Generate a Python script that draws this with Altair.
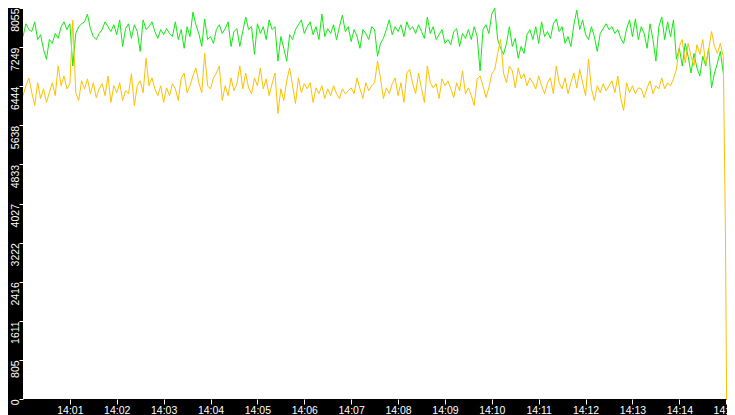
import altair as alt
import pandas as pd

# --- data (values in chart units) ---
green_a = [7466, 7730, 7610, 7570, 7770, 7405, 7505, 7200, 7000, 7405, 7325, 7530, 7430, 7670, 7770, 7610, 7730, 6860, 7530, 7670,
           7730, 7770, 7930, 7630, 7466, 7405, 7530, 7610, 7770, 7670, 7570, 7710, 7505, 7810, 7263, 7630, 7730, 7430, 7710, 7570,
           7160, 7810, 7610, 7670, 7770, 7570, 7430, 7610, 7505, 7630, 7530, 7466, 7770, 7405, 7610, 7225, 7670, 7466, 7970, 7710]
green_b = [7530, 7263, 7830, 7405, 7466, 7325, 7610, 7710, 7530, 7630, 7770, 7263, 7570, 7630, 7263, 7570, 7870, 7610, 7670, 7100,
           7730, 7530, 7670, 7405, 7810, 7610, 7670, 6960, 7466, 7225, 6960, 7505, 7405, 7610, 7710, 7810, 7530, 7670, 7770, 7505,
           7670, 7405, 7930, 7466, 7630, 7530, 7710, 7405, 7670, 7910, 7570, 7670, 7365, 7610, 7466, 7225, 7610, 7530, 7405, 7670]
green_c = [7610, 7060, 7325, 7430, 7610, 7810, 7505, 7670, 7570, 7710, 7466, 7770, 7610, 7670, 7530, 7710, 7570, 7430, 7870, 7530,
           7670, 7405, 7505, 7610, 7325, 7405, 7300, 7570, 7630, 7263, 7530, 7430, 7610, 7405, 7670, 7466, 6760, 7610, 7710, 7530,
           7930, 8050, 7405, 7225, 7100, 7325, 7670, 7263, 7430, 7020, 7263, 7120, 7505, 7610, 7405, 7670, 7325, 7770, 7466, 7570]
green_d = [7430, 7730, 7830, 7570, 7670, 7325, 7466, 7263, 7710, 8010, 7610, 7810, 7505, 7405, 7670, 7466, 7160, 7530, 7630, 7730,
           7610, 7670, 7530, 7610, 7430, 7325, 7630, 7810, 7466, 7830, 7405, 7670, 7530, 7225, 7730, 7405, 6960, 7670, 7870, 7405,
           7770, 7466, 7810, 7000, 7225, 6860, 7325, 7060, 6715, 7120, 6820, 6655, 7060, 6860, 7225, 6410, 6715, 6920, 7160, 6715]

yellow_a = [6250, 6453, 6615, 6310, 6047, 6515, 6190, 6390, 6110, 6310, 6515, 6250, 6860, 6453, 6655, 6390, 6495, 7800, 6310, 6150,
            6555, 6390, 6595, 6290, 6515, 6210, 6390, 6495, 6250, 6655, 6110, 6453, 6310, 6515, 6150, 6350, 6290, 6700, 6047, 6453,
            6555, 6310, 7020, 6453, 6615, 6390, 6250, 6453, 6110, 6410, 6250, 6495, 6390, 6150, 6615, 6715, 6310, 6453, 6655, 6820]
yellow_b = [6515, 6310, 7120, 6453, 6390, 6615, 6715, 6860, 6150, 6453, 6250, 6615, 6350, 6495, 6860, 6390, 6715, 6410, 6290, 6615,
            6453, 6820, 6390, 6595, 6250, 6495, 6715, 5880, 6390, 6150, 6555, 6820, 6453, 6090, 6615, 6310, 6495, 6390, 6515, 6110,
            6410, 6290, 6453, 6190, 6390, 6250, 6453, 6290, 6190, 6390, 6290, 6350, 6410, 6290, 6615, 6390, 6190, 6515, 6350, 6453]
yellow_c = [6515, 6960, 6615, 6190, 6410, 6290, 6495, 6615, 6250, 6515, 6110, 6715, 6790, 6495, 6290, 6715, 6390, 6110, 6860, 6515,
            6410, 6495, 6190, 6595, 6453, 6555, 6390, 6210, 6515, 6350, 6760, 6290, 6410, 6250, 6047, 6595, 6655, 6453, 6210, 6410,
            6700, 6790, 7120, 7405, 6715, 6515, 6860, 6760, 6410, 6820, 6595, 6700, 6453, 6615, 6515, 6390, 6655, 6453, 6290, 6515]
yellow_d = [6615, 6290, 6860, 6515, 6390, 6615, 6290, 6515, 6715, 6410, 6790, 6515, 6250, 7000, 6390, 6150, 6453, 6310, 6495, 6350,
            6453, 6555, 6310, 6655, 6190, 5945, 6515, 6310, 6453, 6290, 6410, 6390, 6210, 6410, 6555, 6290, 6453, 6390, 6615, 6390,
            6515, 6453, 6595, 6790, 7263, 7405, 6920, 7325, 7060, 6860, 7300, 7100, 7405, 6890, 7200, 7570, 7263, 7120, 7325, 7060]
yellow_tail_seconds = [899.0, 900.5]
yellow_tail_values = [3450, 0]

sample_step_seconds = 3.75
y_tick_values = [0, 805, 1611, 2416, 3222, 4027, 4833, 5638, 6444, 7249, 8055]
x_tick_minutes = list(range(1, 16))
series_names = ["green", "yellow"]
series_colors = ["#12e812", "#ffc000"]


def stamp(t):
    m = int(t // 60)
    s = t - 60 * m
    return f"2024-01-01T14:{m:02d}:{s:06.3f}"


green = green_a + green_b + green_c + green_d
yellow = yellow_a + yellow_b + yellow_c + yellow_d

rows = []
for i, v in enumerate(green):
    rows.append({"time": stamp(i * sample_step_seconds), "value": v, "series": "green"})
for i, v in enumerate(yellow):
    rows.append({"time": stamp(i * sample_step_seconds), "value": v, "series": "yellow"})
for t, v in zip(yellow_tail_seconds, yellow_tail_values):
    rows.append({"time": stamp(t), "value": v, "series": "yellow"})
df = pd.DataFrame(rows)

FONT = "Liberation Sans"

x_domain = [alt.DateTime(year=2024, month=1, date=1, hours=14, minutes=0, seconds=0),
            alt.DateTime(year=2024, month=1, date=1, hours=14, minutes=15, seconds=1)]
x_values = [alt.DateTime(year=2024, month=1, date=1, hours=14, minutes=m) for m in x_tick_minutes]

chart = alt.Chart(df).mark_line(strokeWidth=1, clip=True).encode(
    x=alt.X("time:T", scale=alt.Scale(domain=x_domain),
            axis=alt.Axis(values=x_values, format="%H:%M", title=None, domain=False, grid=False,
                          tickColor="white", tickSize=5, tickWidth=1,
                          labelColor="white", labelFont=FONT, labelFontSize=10.5, labelPadding=1,
                          labelFlush=False, labelOverlap=False)),
    y=alt.Y("value:Q", scale=alt.Scale(domain=[0, 8055], nice=False, zero=True),
            axis=alt.Axis(values=y_tick_values, format="d", title=None, domain=False, grid=False,
                          tickColor="white", tickSize=4, tickWidth=1,
                          labelColor="white", labelFont=FONT, labelFontSize=10.5, labelPadding=1,
                          labelAngle=270, labelAlign="right", labelBaseline="alphabetic",
                          labelOverlap=False)),
    color=alt.Color("series:N", scale=alt.Scale(domain=series_names, range=series_colors), legend=None),
    order=alt.Order("time:T"),
).properties(
    width=704,
    height=391,
    autosize=alt.AutoSizeParams(type="none"),
    padding={"left": 15, "top": 0, "right": 0, "bottom": 16},
    background="black",
).configure_view(fill="white", strokeWidth=0)

chart.save("out.html", embed_options={"renderer": "svg", "actions": False})
